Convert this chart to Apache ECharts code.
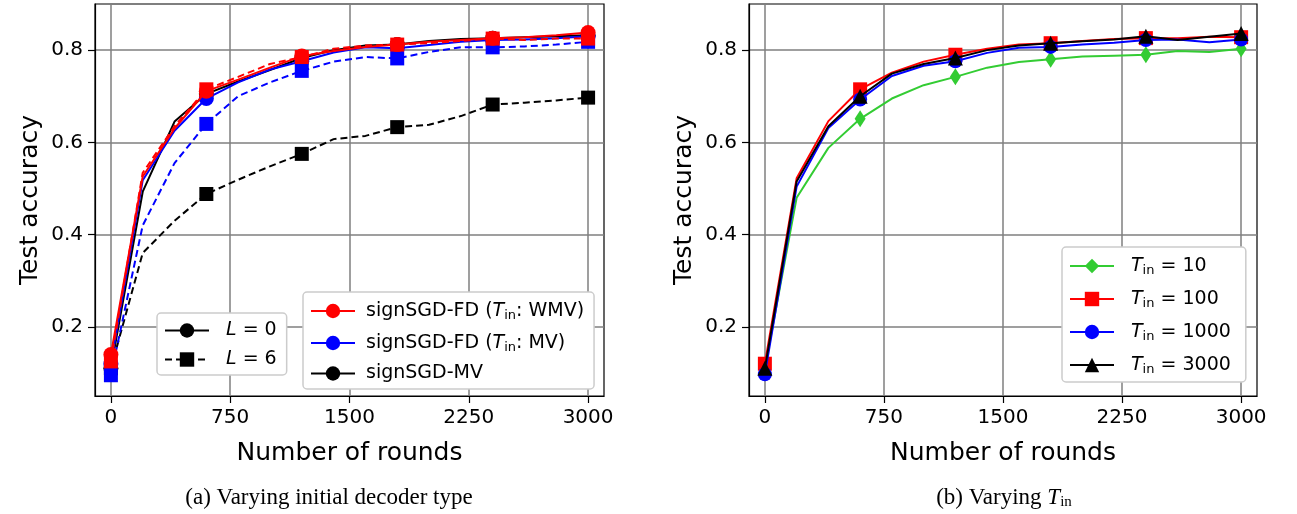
<!DOCTYPE html>
<html><head><meta charset="utf-8">
<script src="https://cdn.jsdelivr.net/npm/echarts@6/dist/echarts.min.js"></script>
<style>html,body{margin:0;padding:0;background:#fff}#c{width:1297px;height:514px}</style>
</head><body><div id="c"></div>
<script>
// ---- data ----
const rounds = [0,200,400,600,800,1000,1200,1400,1600,1800,2000,2200,2400,2600,2800,3000];
const xTicks = [0,750,1500,2250,3000];
const yTicks = [0.2,0.4,0.6,0.8];

// (a) varying initial decoder type
const fdWmvL0 = [0.140,0.526,0.630,0.711,0.736,0.762,0.787,0.798,0.807,0.812,0.818,0.822,0.826,0.828,0.832,0.838];
const fdWmvL6 = [0.125,0.534,0.635,0.715,0.742,0.770,0.785,0.803,0.810,0.812,0.815,0.820,0.825,0.822,0.825,0.825];
const fdMvL0  = [0.120,0.518,0.625,0.695,0.730,0.758,0.776,0.795,0.806,0.804,0.811,0.818,0.822,0.823,0.826,0.830];
const fdMvL6  = [0.095,0.420,0.555,0.640,0.700,0.730,0.755,0.775,0.785,0.782,0.796,0.806,0.806,0.808,0.812,0.818];
const mvL0    = [0.110,0.493,0.645,0.705,0.732,0.757,0.783,0.800,0.810,0.812,0.820,0.824,0.826,0.828,0.830,0.832];
const mvL6    = [0.110,0.360,0.430,0.488,0.519,0.548,0.575,0.607,0.614,0.633,0.638,0.657,0.682,0.686,0.691,0.697];

// (b) varying T_in
const tin10   = [0.110,0.480,0.588,0.651,0.695,0.724,0.742,0.762,0.774,0.780,0.786,0.788,0.790,0.798,0.796,0.803];
const tin100  = [0.120,0.522,0.646,0.715,0.751,0.775,0.790,0.803,0.812,0.815,0.820,0.824,0.826,0.826,0.829,0.828];
const tin1000 = [0.097,0.504,0.631,0.693,0.744,0.766,0.776,0.794,0.805,0.807,0.812,0.816,0.822,0.823,0.817,0.823];
const tin3000 = [0.110,0.515,0.635,0.700,0.749,0.770,0.783,0.800,0.810,0.815,0.819,0.823,0.830,0.822,0.829,0.836];

const legendA1 = ['L = 0','L = 6'];
const legendA2 = ['signSGD-FD (Tin: WMV)','signSGD-FD (Tin: MV)','signSGD-MV'];
const legendB  = ['Tin = 10','Tin = 100','Tin = 1000','Tin = 3000'];

// ---- styling ----
const FONT = 'DejaVu Sans';
const RED = '#ff0000', BLUE = '#0000ff', BLACK = '#000000', GREEN = '#33cc33';
const DASH = [7,4];

function pts(vals){
  return rounds.map((r,i)=> i%3===0 ? {value:[r, vals[i]]} : {value:[r, vals[i]], symbol:'none'});
}
function line(name, g, vals, color, symbol, size, dashed, z){
  return {
    name, type:'line', xAxisIndex:g, yAxisIndex:g, data: vals ? pts(vals) : [],
    symbol, symbolSize:size, showSymbol:true, showAllSymbol:true,
    color, lineStyle:{color, width:2, type: dashed?DASH:'solid'},
    itemStyle:{color, borderWidth:0}, z: z||2, animation:false, silent:true
  };
}

const splitStyle = {show:true, lineStyle:{color:'#7f7f7f', width:1.5}};
function xAxis(g){
  return {type:'value', gridIndex:g, min:-100, max:3100,
    axisLine:{show:true, onZero:false, lineStyle:{color:'#000', width:1.2}},
    axisTick:{show:true, customValues:xTicks, length:7, lineStyle:{color:'#000', width:1.2}},
    axisLabel:{customValues:xTicks, fontSize:20, margin:12, color:'#000', fontFamily:FONT, formatter:v=>String(v)},
    splitLine:splitStyle,
    name:'Number of rounds', nameLocation:'middle', nameGap:45,
    nameTextStyle:{fontSize:25, color:'#000', fontFamily:FONT}};
}
function yAxis(g){
  return {type:'value', gridIndex:g, min:0.05, max:0.9,
    axisLine:{show:true, onZero:false, lineStyle:{color:'#000', width:1.2}},
    axisTick:{show:true, customValues:yTicks, length:7, lineStyle:{color:'#000', width:1.2}},
    axisLabel:{customValues:yTicks, fontSize:20, margin:12, color:'#000', fontFamily:FONT, formatter:v=>v.toFixed(1)},
    splitLine:splitStyle,
    name:'Test accuracy', nameLocation:'middle', nameGap:52,
    nameTextStyle:{fontSize:25, color:'#000', fontFamily:FONT}};
}

const rich = {
  n:{fontSize:19, fontFamily:FONT, color:'#000', lineHeight:22},
  i:{fontSize:19, fontFamily:FONT, color:'#000', fontStyle:'italic', lineHeight:22},
  s:{fontSize:13, fontFamily:FONT, color:'#000', lineHeight:22, padding:[9,0,0,0], verticalAlign:'top'}
};
const labelMap = {
  'L = 0':'{i|L}{n| = 0}',
  'L = 6':'{i|L}{n| = 6}',
  'signSGD-FD (Tin: WMV)':'{n|signSGD-FD (}{i|T}{s|in}{n|: WMV)}',
  'signSGD-FD (Tin: MV)':'{n|signSGD-FD (}{i|T}{s|in}{n|: MV)}',
  'signSGD-MV':'{n|signSGD-MV}',
  'Tin = 10':'{i|T}{s|in}{n| = 10}',
  'Tin = 100':'{i|T}{s|in}{n| = 100}',
  'Tin = 1000':'{i|T}{s|in}{n| = 1000}',
  'Tin = 3000':'{i|T}{s|in}{n| = 3000}'
};
function legend(data, left, top, gap, textPad, padR){
  return {data, left, top, orient:'vertical', itemWidth:44, itemHeight:18, itemGap:gap,
    backgroundColor:'#fff', borderColor:'#cccccc', borderWidth:1.5, borderRadius:4,
    padding:[8,padR,6,7], selectedMode:false,
    formatter:n=>labelMap[n],
    textStyle:{fontSize:19, fontFamily:FONT, color:'#000', padding:[0,0,0,textPad], rich}};
}

const SERIF = 'Liberation Serif';
const capRich = {
  n:{fontSize:23, fontFamily:SERIF, fontWeight:'normal', color:'#000', lineHeight:26},
  i:{fontSize:23, fontFamily:SERIF, fontWeight:'normal', color:'#000', fontStyle:'italic', lineHeight:26},
  s:{fontSize:15, fontFamily:SERIF, fontWeight:'normal', color:'#000', lineHeight:26, padding:[10,0,0,0], verticalAlign:'top'}
};

const option = {
  animation:false,
  backgroundColor:'#fff',
  title:[
    {text:'{n|(a) Varying initial decoder type}', left:324, top:480, textAlign:'center', textStyle:{fontWeight:'normal', rich:capRich}},
    {text:'{n|(b) Varying }{i|T}{s|in}', left:999, top:480, textAlign:'center', textStyle:{fontWeight:'normal', rich:capRich}}
  ],
  grid:[
    {left:95, top:4, width:509, height:392, show:true, borderColor:'#000', borderWidth:1.2, backgroundColor:'#fff'},
    {left:749, top:4, width:508, height:392, show:true, borderColor:'#000', borderWidth:1.2, backgroundColor:'#fff'}
  ],
  xAxis:[xAxis(0), xAxis(1)],
  yAxis:[yAxis(0), yAxis(1)],
  legend:[
    legend(legendA1, 157, 313, 10, 12, 10),
    legend(legendA2, 303, 292, 10, 6, 10),
    legend(legendB, 1062, 247, 11, 12, 15)
  ],
  series:[
    // legend-only entries for panel (a)
    line('L = 0', 0, null, BLACK, 'circle', 14, false),
    line('L = 6', 0, null, BLACK, 'rect', 13, true),
    line('signSGD-FD (Tin: WMV)', 0, null, RED, 'circle', 14, false),
    line('signSGD-FD (Tin: MV)', 0, null, BLUE, 'circle', 14, false),
    line('signSGD-MV', 0, null, BLACK, 'circle', 14, false),
    // panel (a)
    line('MV L6', 0, mvL6, BLACK, 'rect', 14, true, 3),
    line('MV L0', 0, mvL0, BLACK, 'circle', 15, false, 3),
    line('FD-MV L6', 0, fdMvL6, BLUE, 'rect', 14, true, 4),
    line('FD-MV L0', 0, fdMvL0, BLUE, 'circle', 15, false, 4),
    line('FD-WMV L6', 0, fdWmvL6, RED, 'rect', 14, true, 5),
    line('FD-WMV L0', 0, fdWmvL0, RED, 'circle', 15, false, 5),
    // panel (b)
    line('Tin = 10', 1, tin10, GREEN, 'diamond', [11,17], false, 3),
    line('Tin = 100', 1, tin100, RED, 'rect', 14, false, 4),
    line('Tin = 1000', 1, tin1000, BLUE, 'circle', 14, false, 5),
    line('Tin = 3000', 1, tin3000, BLACK, 'triangle', 15, false, 6)
  ]
};
const chart = echarts.init(document.getElementById('c'), null, {renderer:'canvas'});
chart.setOption(option);
</script>
</body></html>
